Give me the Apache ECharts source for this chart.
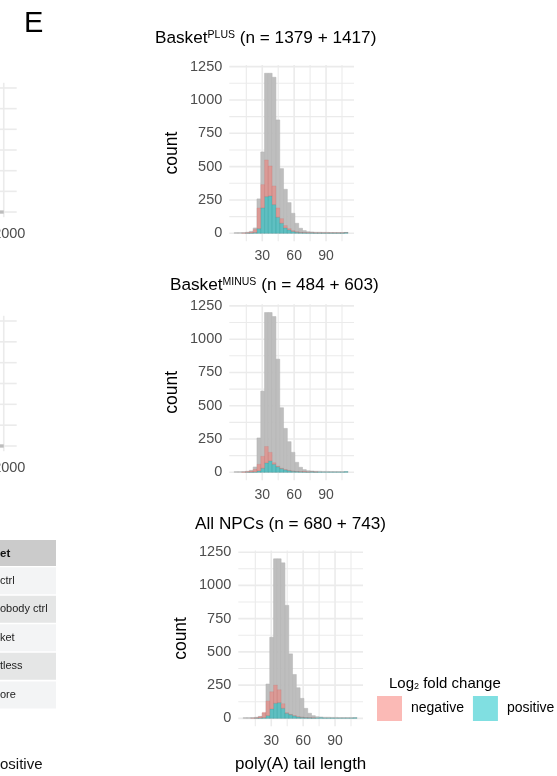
<!DOCTYPE html>
<html><head><meta charset="utf-8">
<script src="https://cdn.jsdelivr.net/npm/echarts@6/dist/echarts.min.js"></script>
<style>html,body{margin:0;padding:0;background:#fff}#c{width:557px;height:776px}</style>
</head><body><div id="c"></div>
<script>
// ---------- data ----------
const binStart = 3.6;
const binWidth = 3.57;
const greyCounts = [5,5,6,8,15,40,258,610,1200,1200,1170,850,485,330,230,150,75,38,20,12,10,8,8,7,7,6,6,6,6,6];
const posPlus  = [0,0,0,1,2,6,35,190,275,280,215,120,75,40,25,14,8,5,4,3,3,2,2,2,2,2,2,2,2,6];
const negPlus  = [0,0,1,3,6,22,155,175,275,225,140,70,35,18,10,6,4,3,2,2,1,1,1,1,1,1,1,1,1,1];
const posMinus = [0,0,0,1,2,3,10,30,70,85,60,42,28,18,12,8,6,4,3,2,4,2,2,1,1,1,1,1,1,5];
const negMinus = [0,0,2,4,8,20,50,90,124,65,12,5,3,2,2,2,1,2,4,1,1,1,0,0,0,0,0,0,0,0];
const posAll   = [0,0,0,1,2,5,20,70,113,118,75,38,28,18,10,7,5,4,3,3,5,2,2,2,1,1,1,1,1,4];
const negAll   = [0,0,1,3,10,40,110,130,137,97,35,4,2,2,2,2,1,1,1,0,0,0,0,0,0,0,0,0,0,0];
const panelTitles = [
  'Basket{sup|PLUS} (n = 1379 + 1417)',
  'Basket{sup|MINUS} (n = 484 + 603)',
  'All NPCs (n = 680 + 743)'
];
const xTickLabels = [30, 60, 90];
const yTickLabels = [0, 250, 500, 750, 1000, 1250];
const xBreaksMajor = [30, 60, 90];
const xBreaksMinor = [15, 45, 75, 105];
const yBreaksMajor = [0, 250, 500, 750, 1000, 1250];
const yBreaksMinor = [125, 375, 625, 875, 1125];
const legendNames = ['negative', 'positive'];
// fragments of neighbouring panels (cropped at the left edge)
const fragTickLabels = [2000];
const fragXBreaks = [1850];
const fragYBreaks = [0, 1, 2, 3, 4, 5, 6];
const fragBar = [[1700, 1850, -0.08, 0.08]];
const tableHeader = 'et';
const tableRows = ['ctrl', 'obody ctrl', 'ket', 'tless', 'ore'];

// ---------- helpers ----------
const FONT = 'Liberation Sans, Arial, Helvetica, sans-serif';
const GREY_FILL = '#bebebe';
const RED = 'rgba(248,118,109,0.5)';
const TEAL = 'rgba(0,191,196,0.5)';
const plain = v => String(v);

function bins(base, top) {
  const out = [];
  for (let k = 0; k < top.length; k++) {
    const x0 = binStart + k * binWidth;
    const b = base ? base[k] : 0;
    if (top[k] > 0) out.push([x0, x0 + binWidth, b, b + top[k]]);
  }
  return out;
}
function rectRender(fill, stroke, lw) {
  return function (params, api) {
    const a = api.coord([api.value(0), api.value(3)]);
    const b = api.coord([api.value(1), api.value(2)]);
    return { type: 'rect', shape: { x: a[0], y: a[1], width: b[0] - a[0], height: b[1] - a[1] },
      style: { fill: fill, stroke: stroke, lineWidth: lw } };
  };
}
function gridRender(params, api) {
  const cs = params.coordSys;
  const v = api.value(0), o = api.value(1), m = api.value(2);
  let shape;
  if (o === 0) {
    const p = api.coord([v, 0]);
    shape = { x1: p[0], y1: cs.y, x2: p[0], y2: cs.y + cs.height };
  } else {
    const p = api.coord([0, v]);
    shape = { x1: cs.x, y1: p[1], x2: cs.x + cs.width, y2: p[1] };
  }
  return { type: 'line', shape: shape, style: { stroke: '#ebebeb', lineWidth: m ? 1.6 : 1.1 } };
}
function gridData(xs, xm, ys, ym) {
  return xs.map(v => [v, 0, 1]).concat(xm.map(v => [v, 0, 0]))
    .concat(ys.map(v => [v, 1, 1])).concat(ym.map(v => [v, 1, 0]));
}

const grids = [
  { left: 229.3, top: 65.0, width: 124.7, height: 176.3 },
  { left: 229.3, top: 304.3, width: 124.7, height: 176.0 },
  { left: 238.3, top: 550.6, width: 124.7, height: 175.7 },
  { left: 0, top: 82.8, width: 16.7, height: 134.4 },
  { left: 0, top: 315.8, width: 16.7, height: 135.4 }
].map(g => Object.assign(g, { outerBoundsMode: 'none', containLabel: false }));
const xAxes = [], yAxes = [], series = [];
const pos = [posPlus, posMinus, posAll], neg = [negPlus, negMinus, negAll];
for (let i = 0; i < 3; i++) {
  xAxes.push({ type: 'value', gridIndex: i, min: -1, max: 116.3,
    axisLine: { show: false }, axisTick: { show: false }, splitLine: { show: false },
    axisLabel: { customValues: xTickLabels, formatter: plain, color: '#4d4d4d', fontSize: 14, fontFamily: FONT, margin: 8 },
    name: i === 2 ? 'poly(A) tail length' : '', nameLocation: 'middle', nameGap: 30,
    nameTextStyle: { color: '#000', fontSize: 17, fontFamily: FONT } });
  yAxes.push({ type: 'value', gridIndex: i, min: -60, max: 1262,
    axisLine: { show: false }, axisTick: { show: false }, splitLine: { show: false },
    axisLabel: { customValues: yTickLabels, formatter: plain, color: '#4d4d4d', fontSize: 14.5, fontFamily: FONT, margin: 7 },
    name: 'count', nameLocation: 'middle', nameGap: 48, nameRotate: 90,
    nameTextStyle: { color: '#000', fontSize: 17.5, fontFamily: FONT } });
  series.push({ type: 'custom', xAxisIndex: i, yAxisIndex: i, z: 1, silent: true, clip: false,
    renderItem: gridRender, encode: { x: 0, y: 0 },
    data: gridData(xBreaksMajor, xBreaksMinor, yBreaksMajor, yBreaksMinor) });
  series.push({ type: 'custom', name: 'all', xAxisIndex: i, yAxisIndex: i, z: 2, silent: true,
    renderItem: rectRender(GREY_FILL, '#b3b3b3', 0.5), encode: { x: [0, 1], y: [2, 3] },
    data: bins(null, greyCounts) });
  series.push({ type: 'custom', name: 'positive', xAxisIndex: i, yAxisIndex: i, z: 3, silent: true,
    renderItem: rectRender(TEAL, 'rgba(0,150,155,0.25)', 0.5), encode: { x: [0, 1], y: [2, 3] },
    itemStyle: { color: '#80dfe1' },
    data: bins(null, pos[i]) });
  series.push({ type: 'custom', name: 'negative', xAxisIndex: i, yAxisIndex: i, z: 3, silent: true,
    renderItem: rectRender(RED, 'rgba(200,90,85,0.25)', 0.5), encode: { x: [0, 1], y: [2, 3] },
    itemStyle: { color: '#fbbab6' },
    data: bins(pos[i], neg[i]) });
}
for (let j = 3; j < 5; j++) {
  xAxes.push({ type: 'value', gridIndex: j, min: 1749, max: 2200,
    axisLine: { show: false }, axisTick: { show: false }, splitLine: { show: false },
    axisLabel: { customValues: fragTickLabels, formatter: plain, color: '#4d4d4d', fontSize: 14.5, fontFamily: FONT, margin: 9 } });
  yAxes.push({ type: 'value', gridIndex: j, min: -0.25, max: 6.25,
    axisLine: { show: false }, axisTick: { show: false }, splitLine: { show: false }, axisLabel: { show: false } });
  series.push({ type: 'custom', xAxisIndex: j, yAxisIndex: j, z: 1, silent: true, clip: false,
    renderItem: gridRender, encode: { x: 0, y: 0 },
    data: gridData(fragXBreaks, [], fragYBreaks, []) });
  series.push({ type: 'custom', xAxisIndex: j, yAxisIndex: j, z: 2, silent: true, clip: false,
    renderItem: rectRender('#bdbdbd', null, 0), encode: { x: [0, 1], y: [2, 3] }, data: fragBar });
}

const graphic = [];
function txt(x, y, text, size, extra) {
  const st = Object.assign({ text: text, fontSize: size, fontFamily: FONT, fill: '#000',
    align: 'left', verticalAlign: 'middle', textAlign: 'left', textVerticalAlign: 'middle' }, extra || {});
  graphic.push({ type: 'text', x: x, y: y, silent: true, style: st });
}
txt(24, 24, 'E', 29);
const titlePos = [[155, 38.3], [170, 285], [195, 524]];
for (let i = 0; i < 3; i++) {
  txt(titlePos[i][0], titlePos[i][1], panelTitles[i], 17.2,
    { rich: { sup: { fontSize: 10.5, fontFamily: FONT, fill: '#000', verticalAlign: 'top' } } });
}
txt(389, 683.5, 'Log{sub|2} fold change', 15,
  { rich: { sub: { fontSize: 9, fontFamily: FONT, fill: '#000', verticalAlign: 'bottom' } } });
// table fragment
graphic.push({ type: 'rect', silent: true, shape: { x: 0, y: 540, width: 56, height: 26 }, style: { fill: '#cbcbcb' } });
txt(0, 553.5, tableHeader, 11.5, { fontWeight: 'bold', fill: '#111' });
const rowTops = [567.3, 595.7, 624.2, 652.8, 681.4];
for (let r = 0; r < tableRows.length; r++) {
  graphic.push({ type: 'rect', silent: true, shape: { x: 0, y: rowTops[r], width: 56, height: 27 },
    style: { fill: r % 2 === 0 ? '#f3f4f5' : '#e5e6e6' } });
  txt(0, rowTops[r] + 13.5, tableRows[r], 11, { fill: '#222' });
}
txt(0, 765, 'ositive', 15, { fill: '#111' });

const chart = echarts.init(document.getElementById('c'), null, { renderer: 'canvas' });
chart.setOption({
  animation: false,
  backgroundColor: '#ffffff',
  grid: grids,
  xAxis: xAxes,
  yAxis: yAxes,
  series: series,
  legend: {
    left: 377, top: 696, orient: 'horizontal', itemWidth: 25, itemHeight: 25, itemGap: 9,
    selectedMode: false, padding: 0, icon: 'rect',
    textStyle: { fontSize: 14, fontFamily: FONT, color: '#000', padding: [0, 0, 0, 4] },
    data: [
      { name: legendNames[0], icon: 'rect', itemStyle: { color: '#fbbab6', borderWidth: 0 } },
      { name: legendNames[1], icon: 'rect', itemStyle: { color: '#80dfe1', borderWidth: 0 } }
    ]
  },
  graphic: graphic
});
</script></body></html>
